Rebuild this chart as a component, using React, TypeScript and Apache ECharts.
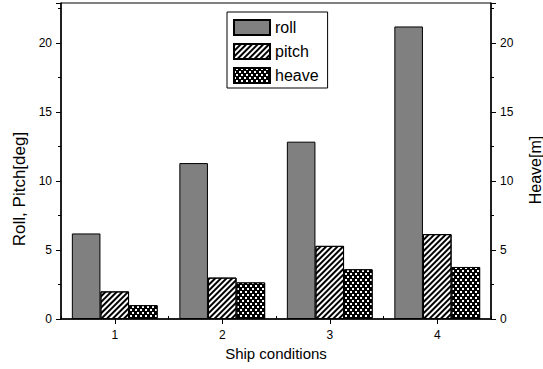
import React, { useEffect, useRef } from "react";
import * as echarts from "echarts";

const conditions = ["1", "2", "3", "4"];
const rollDeg = [6.2, 11.3, 12.85, 21.2];
const pitchDeg = [2.0, 3.0, 5.3, 6.15];
const heaveM = [1.0, 2.65, 3.6, 3.77];

const FONT = "'Liberation Sans', Arial, sans-serif";

export default function App() {
  const ref = useRef<HTMLDivElement>(null);

  useEffect(() => {
    if (!ref.current) return;
    const chart = echarts.init(ref.current, null, { renderer: "svg" });

    const valueAxis = (
      side: "left" | "right",
      name: string,
      gap: number,
      size: number,
      shift: number
    ) => ({
      type: "value" as const,
      position: side,
      min: 0,
      max: 22.9,
      interval: 5,
      name,
      nameLocation: "middle" as const,
      nameRotate: 90,
      nameGap: gap,
      // extra padding at the end of the rotated title nudges it towards the x axis
      nameTextStyle: { fontFamily: FONT, fontSize: size, color: "#000", padding: [0, shift, 0, 0] },
      axisLine: { show: true, lineStyle: { color: "#000", width: 1.5 } },
      axisTick: { show: true, inside: false, length: 5, lineStyle: { color: "#000", width: 1 } },
      minorTick: { show: true, splitNumber: 2, length: 3, lineStyle: { color: "#000", width: 1 } },
      splitLine: { show: false },
      minorSplitLine: { show: false },
      axisLabel: {
        fontFamily: FONT,
        fontSize: 12,
        color: "#000",
        margin: 9,
        showMaxLabel: false,
      },
    });

    chart.setOption({
      animation: false,
      backgroundColor: "#fff",
      grid: {
        left: 61,
        right: 52,
        top: 3,
        bottom: 50,
        outerBoundsMode: "none",
        containLabel: false,
        show: true,
        borderColor: "#000",
        borderWidth: 1,
      },
      legend: {
        orient: "vertical",
        left: 227,
        top: 12,
        icon: "rect",
        padding: [7, 9, 4, 6],
        itemWidth: 36,
        itemHeight: 15,
        itemGap: 7,
        borderColor: "#000",
        borderWidth: 1,
        backgroundColor: "#fff",
        textStyle: { fontFamily: FONT, fontSize: 16, color: "#000" },
        data: ["roll", "pitch", "heave"],
      },
      xAxis: [
        {
          type: "category",
          data: conditions,
          position: "bottom",
          name: "Ship conditions",
          nameLocation: "middle",
          nameGap: 27,
          nameTextStyle: { fontFamily: FONT, fontSize: 15, color: "#000" },
          axisLine: { show: true, lineStyle: { color: "#000", width: 1.5 } },
          axisTick: { show: true, alignWithLabel: true, length: 5, lineStyle: { color: "#000" } },
          axisLabel: { fontFamily: FONT, fontSize: 12, color: "#000", margin: 10 },
          splitLine: { show: false },
        },
        {
          type: "category",
          data: conditions,
          position: "bottom",
          axisLine: { show: false },
          axisTick: { show: true, inside: true, length: 3, lineStyle: { color: "#000" } },
          axisLabel: { show: false },
          splitLine: { show: false },
        },
      ],
      yAxis: [
        valueAxis("left", "Roll, Pitch[deg]", 33, 17, 56),
        valueAxis("right", "Heave[m]", 36, 16, 18),
      ],
      series: [
        {
          name: "roll",
          type: "bar",
          data: rollDeg,
          yAxisIndex: 0,
          barWidth: 28.6,
          barGap: "0%",
          itemStyle: { color: "#808080", borderColor: "#000", borderWidth: 1 },
        },
        {
          name: "pitch",
          type: "bar",
          data: pitchDeg,
          yAxisIndex: 0,
          barWidth: 28.6,
          barGap: "0%",
          itemStyle: {
            color: "#fff",
            borderColor: "#000",
            borderWidth: 1,
            decal: {
              symbol: "rect",
              symbolSize: 1,
              color: "#000",
              backgroundColor: "#fff",
              dashArrayX: [1, 0],
              dashArrayY: [1.2, 1.8],
              rotation: -Math.PI / 4,
            },
          },
        },
        {
          name: "heave",
          type: "bar",
          data: heaveM,
          yAxisIndex: 1,
          barWidth: 28.6,
          barGap: "0%",
          itemStyle: {
            color: "#000",
            borderColor: "#000",
            borderWidth: 1,
            decal: {
              symbol: "rect",
              symbolSize: 1,
              color: "#fff",
              backgroundColor: "#000",
              dashArrayX: [[1.5, 2.5], [0, 2, 1.5, 0.5]],
              dashArrayY: [1.5, 0.5],
              rotation: 0,
            },
          },
        },
      ],
    });

    return () => chart.dispose();
  }, []);

  return (
    <div
      ref={ref}
      style={{ position: "absolute", left: 0, top: 0, width: 543, height: 369, overflow: "hidden" }}
    />
  );
}
